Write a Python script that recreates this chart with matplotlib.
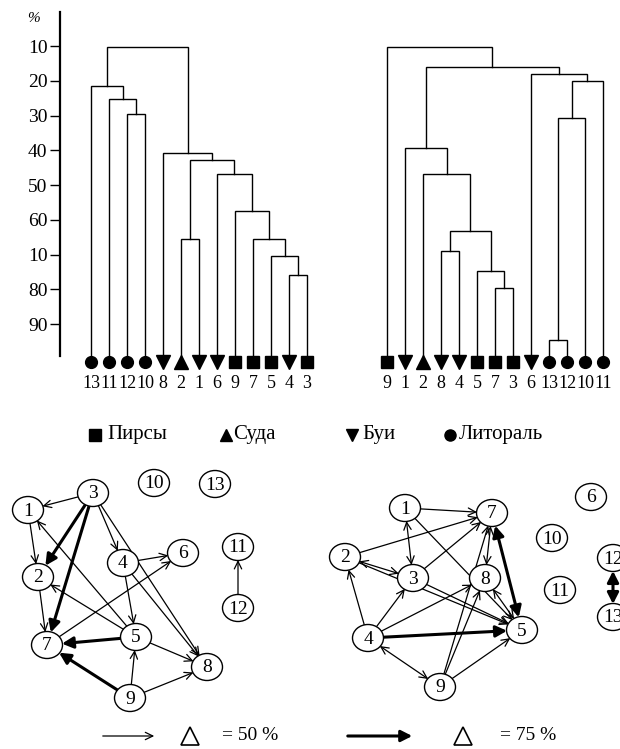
import matplotlib
matplotlib.use("Agg")
import matplotlib.pyplot as plt
from matplotlib.patches import Ellipse, FancyArrowPatch

plt.rcParams['font.family'] = ['Liberation Serif', 'DejaVu Serif']

# ---- dendrogram data (similarity, %) ----
pct_ticks = [10, 20, 30, 40, 50, 60, 70, 80, 90]
pct_labels = ["10", "20", "30", "40", "50", "60", "10", "80", "90"]

left_order = [13, 11, 12, 10, 8, 2, 1, 6, 9, 7, 5, 4, 3]
# linkage rows: child a, child b, level; new clusters numbered from 13
left_links = [[2, 3, 29.6], [1, 13, 25.3], [0, 14, 21.5], [11, 12, 76.0],
              [10, 16, 70.4], [9, 17, 65.5], [8, 18, 57.5], [7, 19, 46.8],
              [5, 6, 65.5], [21, 20, 42.8], [4, 22, 40.8], [15, 23, 10.3]]

right_order = [9, 1, 2, 8, 4, 5, 7, 3, 6, 13, 12, 10, 11]
right_links = [[6, 7, 79.6], [5, 13, 74.7], [3, 4, 68.9], [15, 14, 63.1],
               [2, 16, 46.7], [1, 17, 39.3], [9, 10, 94.6], [19, 11, 30.8],
               [20, 12, 20.0], [8, 21, 17.9], [18, 22, 16.0], [0, 23, 10.2]]

# station types
piers = [3, 5, 7, 9]
vessels = [2]
buoys = [1, 4, 6, 8]
littoral = [10, 11, 12, 13]
type_names = ["Пирсы", "Суда", "Буи", "Литораль"]
type_markers = ["s", "^", "v", "o"]

# ---- network graphs ----
left_nodes = [1, 2, 3, 4, 5, 6, 7, 8, 9, 10, 11, 12, 13]
left_x = [28, 38, 93, 123, 136, 183, 47, 207, 130, 154, 238, 238, 215]
left_y = [510, 577, 493, 563, 637, 553, 645, 667, 698, 483, 547, 608, 484]
left_src = [3, 3, 3, 3, 3, 1, 2, 5, 5, 4, 4, 4, 7, 5, 5, 9, 9, 9, 12]
left_dst = [1, 2, 7, 4, 8, 2, 7, 1, 2, 6, 5, 8, 6, 7, 8, 7, 5, 8, 11]
left_kind = ["t", "T", "T", "t", "t", "t", "t", "t", "t", "t", "t", "t",
             "t", "T", "t", "T", "t", "t", "t"]

right_nodes = [1, 2, 3, 4, 5, 6, 7, 8, 9, 10, 11, 12, 13]
right_x = [405, 345, 413, 368, 522, 591, 492, 485, 440, 552, 560, 613, 613]
right_y = [508, 557, 578, 638, 630, 497, 513, 578, 687, 538, 590, 558, 617]
right_src = [1, 1, 1, 2, 2, 2, 3, 3, 4, 4, 4, 4, 4, 9, 9, 9, 8, 8, 7, 12]
right_dst = [7, 3, 5, 7, 3, 5, 7, 5, 2, 3, 8, 5, 9, 7, 8, 5, 7, 5, 5, 13]
right_kind = ["t", "b", "t", "t", "b", "t", "t", "t", "t", "t", "t", "T",
              "b", "t", "t", "t", "b", "b", "B", "B"]

fig = plt.figure(figsize=(6.2, 7.49), dpi=100)

# pixel-space axes for graphs and legends
ax = fig.add_axes([0, 0, 1, 1])
ax.set_xlim(0, 620)
ax.set_ylim(749, 0)
ax.axis("off")

# dendrogram axes: y in %, x in pixel columns
top_h = 400
axd = fig.add_axes([0, 1 - top_h / 749, 1, top_h / 749])
axd.set_xlim(0, 620)
px_per_pct = 3.475
y0_px = 11.3
axd.set_ylim((top_h - y0_px) / px_per_pct, -y0_px / px_per_pct)
for s in ["top", "right", "bottom"]:
    axd.spines[s].set_visible(False)
axd.spines["left"].set_position(("data", 60))
axd.spines["left"].set_bounds(0.2, 99.2)
axd.spines["left"].set_linewidth(1.6)
axd.set_xticks([])
axd.set_yticks(pct_ticks)
axd.set_yticklabels(pct_labels, fontsize=14)
axd.tick_params(axis="y", direction="out", length=7, width=1.0, pad=2)
axd.patch.set_alpha(0)
axd.text(33, 2.0, "%", fontsize=11, ha="center", va="center", style="italic")

leaf_base = 100.9
leaf_step = 18


def type_marker(st):
    for grp, m in zip([piers, vessels, buoys, littoral], type_markers):
        if st in grp:
            return m
    return "o"


def draw_dendro(order, links, x0):
    xs = [x0 + i * leaf_step for i in range(len(order))]
    ys = [leaf_base] * len(order)
    for a, b, h in links:
        xa, ya, xb, yb = xs[a], ys[a], xs[b], ys[b]
        axd.plot([xa, xa, xb, xb], [ya, h, h, yb], color="black", lw=1.0,
                 solid_joinstyle="miter")
        xs.append((xa + xb) / 2)
        ys.append(h)
    for i, st in enumerate(order):
        m = type_marker(st)
        ms = 8.5 if m in ("s", "o") else 9.5
        axd.plot(xs[i], leaf_base, marker=m, ms=ms, color="black", zorder=4)
        axd.text(xs[i], 107.0, str(st), fontsize=13, ha="center", va="center")


draw_dendro(left_order, left_links, 91)
draw_dendro(right_order, right_links, 387)

# type legend
leg_x_marker = [95, 226, 352, 450]
leg_x_text = [107, 233, 362, 459]
for m, xm, xt, name in zip(type_markers, leg_x_marker, leg_x_text, type_names):
    ax.plot(xm, 435, marker=m, ms=8 if m in ("s", "o") else 9, color="black")
    ax.text(xt, 434, name, fontsize=15, ha="left", va="center")


def draw_graph(nodes, nx, ny, src, dst, kind):
    patches = {}
    for n, x, y in zip(nodes, nx, ny):
        e = Ellipse((x, y), 31, 27, facecolor="white", edgecolor="black",
                    lw=1.0, zorder=3)
        ax.add_patch(e)
        patches[n] = e
        ax.text(x, y + 1, str(n), fontsize=14, ha="center", va="center", zorder=4)
    for s, d, k in zip(src, dst, kind):
        pa, pb = patches[s], patches[d]
        if k == "t":
            style, lw = "->,head_length=0.45,head_width=0.22", 0.9
        elif k == "T":
            style, lw = "-|>,head_length=0.55,head_width=0.28", 2.2
        elif k == "b":
            style, lw = "<->,head_length=0.45,head_width=0.22", 0.9
        else:
            style, lw = "<|-|>,head_length=0.55,head_width=0.28", 2.2
        arr = FancyArrowPatch(pa.center, pb.center, patchA=pa, patchB=pb,
                              arrowstyle=style, mutation_scale=12, lw=lw,
                              color="black", shrinkA=0, shrinkB=0, zorder=2)
        ax.add_patch(arr)


draw_graph(left_nodes, left_x, left_y, left_src, left_dst, left_kind)
draw_graph(right_nodes, right_x, right_y, right_src, right_dst, right_kind)

# weight legend
leg_y = 736
ax.add_patch(FancyArrowPatch((100, leg_y), (157, leg_y),
                             arrowstyle="->,head_length=0.45,head_width=0.22",
                             mutation_scale=12, lw=0.9, color="black"))
ax.plot(190, leg_y, marker="^", ms=13, mfc="white", mec="black", mew=1.2)
ax.text(222, leg_y, "= 50 %", fontsize=14, ha="left", va="center")
ax.add_patch(FancyArrowPatch((345, leg_y), (415, leg_y),
                             arrowstyle="-|>,head_length=0.55,head_width=0.28",
                             mutation_scale=12, lw=2.2, color="black"))
ax.plot(463, leg_y, marker="^", ms=13, mfc="white", mec="black", mew=1.2)
ax.text(500, leg_y, "= 75 %", fontsize=14, ha="left", va="center")

fig.savefig("out.png", dpi=100)
